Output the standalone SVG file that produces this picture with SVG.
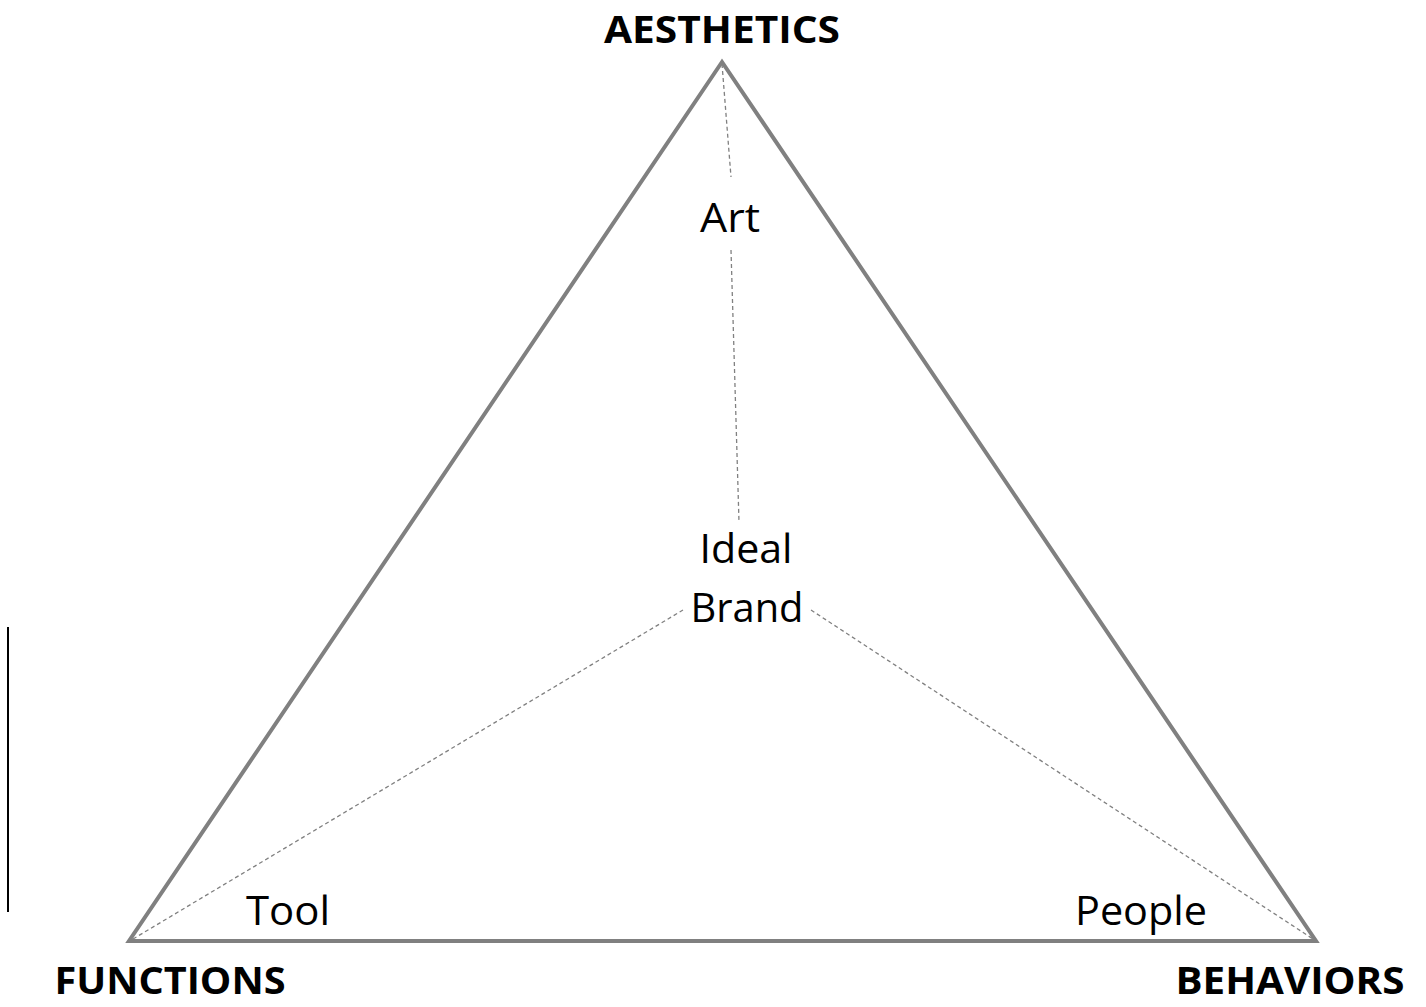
<svg xmlns="http://www.w3.org/2000/svg" width="1426" height="1007" viewBox="0 0 1426 1007">
<style>
.lbl{font-family:"Open Sans","Liberation Sans",sans-serif;font-size:40px;fill:#000;text-anchor:middle}
.hd{font-family:"Open Sans","Liberation Sans",sans-serif;font-size:38px;font-weight:bold;fill:#000;text-anchor:middle}
.dash{stroke:#808080;stroke-width:1.3;stroke-dasharray:4 3;fill:none}
</style>
<rect width="1426" height="1007" fill="#fff"/>
<g id="triangle">
<polygon points="722,62 129,941 1316,941" fill="none" stroke="#808080" stroke-width="4" stroke-linejoin="miter"/>
</g>
<g id="side-bar">
<line x1="8" y1="627" x2="8" y2="912" stroke="#000" stroke-width="2"/>
</g>
<g id="connectors">
<line class="dash" x1="722" y1="64" x2="731" y2="177"/>
<line class="dash" x1="731" y1="250" x2="739" y2="522"/>
<line class="dash" x1="133" y1="939" x2="683" y2="610"/>
<line class="dash" x1="811" y1="610" x2="1313" y2="939"/>
</g>
<g id="aesthetics"><text class="hd" x="722" y="43" textLength="236" lengthAdjust="spacingAndGlyphs">AESTHETICS</text></g>
<g id="functions"><text class="hd" x="170" y="994" textLength="231" lengthAdjust="spacingAndGlyphs">FUNCTIONS</text></g>
<g id="behaviors"><text class="hd" x="1290" y="994" textLength="229" lengthAdjust="spacingAndGlyphs">BEHAVIORS</text></g>
<g id="art"><text class="lbl" x="730" y="232" textLength="60" lengthAdjust="spacingAndGlyphs">Art</text></g>
<g id="ideal-brand">
<text class="lbl" x="746" y="563" textLength="93" lengthAdjust="spacingAndGlyphs">Ideal</text>
<text class="lbl" x="747" y="622" textLength="113" lengthAdjust="spacingAndGlyphs">Brand</text>
</g>
<g id="tool"><text class="lbl" x="288" y="925" textLength="84" lengthAdjust="spacingAndGlyphs">Tool</text></g>
<g id="people"><text class="lbl" x="1141" y="925" textLength="132" lengthAdjust="spacingAndGlyphs">People</text></g>
</svg>
